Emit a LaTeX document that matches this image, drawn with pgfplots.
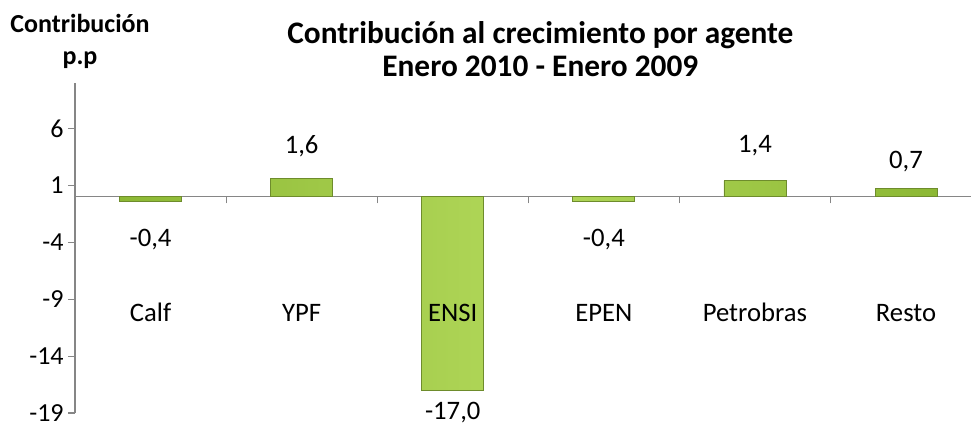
\documentclass[border=0pt]{standalone}
\usepackage{pgfplots}
\pgfplotsset{compat=1.18}
\usepackage{fontspec}
\setmainfont{Carlito}
\definecolor{axgray}{RGB}{134,134,134}
\definecolor{gA}{RGB}{140,184,52}
\definecolor{gB}{RGB}{178,216,90}
\definecolor{gD}{RGB}{110,140,44}
\begin{document}
\begin{tikzpicture}
\begin{axis}[
  scale only axis,
  width=672pt, height=247.5pt,
  xmin=-0.5, xmax=5.43,
  ymin=-19, ymax=10,
  axis x line=middle,
  axis y line=left,
  axis line style={axgray, line width=0.8pt, -},
  x axis line style={-},
  y axis line style={-},
  xtick={0.5,1.5,2.5,3.5,4.5},
  xticklabels={},
  xtick align=outside,
  major tick length=5pt,
  ytick={-19,-14,-9,-4,1,6},
  ytick align=outside,
  tick style={axgray, line width=0.8pt},
  yticklabel style={font=\fontsize{19.5}{21}\selectfont, text=black},
  /pgf/number format/assume math mode=true,
  /pgf/number format/use comma,
  clip=false,
  ybar,
  bar width=0.41,
]
\addplot[draw=gD, line width=0.6pt, shading=axis, left color=gA, right color=gA, middle color=gB, shading angle=90]
  coordinates {(0,-0.4) (1,1.6) (2,-17.0) (3,-0.4) (4,1.4) (5,0.7)};
\begin{scope}[every node/.style={font=\fontsize{20}{22}\selectfont, text height=1.6ex, text depth=0.45ex}]
\node at (axis cs:0,-10.6) {Calf};
\node at (axis cs:1,-10.6) {YPF};
\node at (axis cs:2,-10.6) {ENSI};
\node at (axis cs:3,-10.6) {EPEN};
\node at (axis cs:4,-10.6) {Petrobras};
\node at (axis cs:5,-10.6) {Resto};
\node at (axis cs:0,-4.05) {-0,4};
\node at (axis cs:1,4.1) {1,6};
\node at (axis cs:2,-19.25) {-17,0};
\node at (axis cs:3,-4.05) {-0,4};
\node at (axis cs:4,4.25) {1,4};
\node at (axis cs:5,2.8) {0,7};
\end{scope}
\end{axis}
\pgfresetboundingbox
\path (-56.25pt,-10.5pt) rectangle (672pt,309.75pt);
\node[font=\bfseries\fontsize{23.5}{25}\selectfont, align=center] at (349pt, 273pt) {Contribución al crecimiento por agente\\Enero 2010 - Enero 2009};
\node[font=\bfseries\fontsize{19.5}{24}\selectfont, align=center] at (3.75pt, 279pt) {Contribución\\p.p};
\end{tikzpicture}
\end{document}
